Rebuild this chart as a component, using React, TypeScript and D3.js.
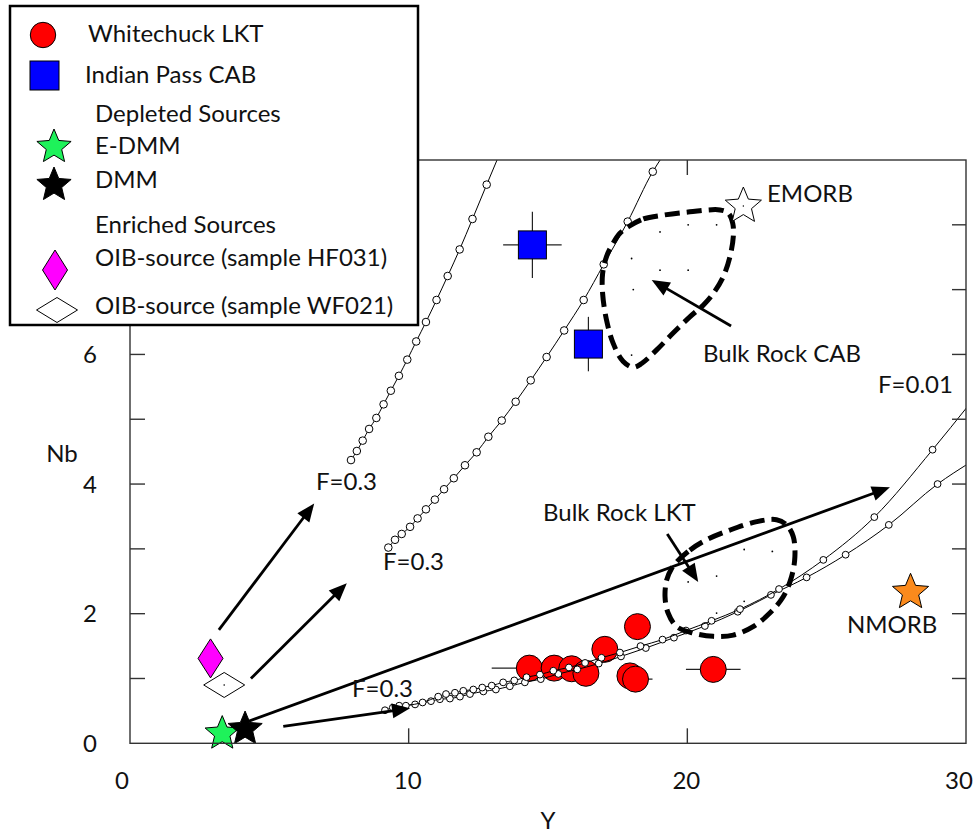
import React from "react";
import * as d3 from "d3";

const WIDTH = 976;
const HEIGHT = 836;
const FONT = "Lato, 'Open Sans', sans-serif";
const FS = 24;

// Whitechuck LKT: Y (ppm), Nb (ppm), ±Y
const lktY = [14.33, 15.22, 15.85, 16.36, 17.04, 18.21, 17.94, 18.14, 20.93];
const lktNb = [1.16, 1.16, 1.15, 1.08, 1.45, 1.8, 1.04, 0.99, 1.14];
const lktYErr = [1.35, 0.4, 0.4, 0.4, 0.4, 0.4, 0.4, 0.61, 0.98];

// Indian Pass CAB: Y, Nb, ±Y, ±Nb
const cabY = [14.44, 16.45];
const cabNb = [7.69, 6.16];
const cabYErr = [1.05, 0.4];
const cabNbErr = [0.51, 0.42];

// Mantle sources and reference basalts: [Y, Nb]
const eDMM: [number, number] = [3.31, 0.15];
const DMM: [number, number] = [4.13, 0.22];
const oibHF031: [number, number] = [2.89, 1.31];
const oibWF021: [number, number] = [3.38, 0.9];
const EMORB: [number, number] = [22.01, 8.29];
const NMORB: [number, number] = [28.01, 2.33];

// Batch-melting model curves (F = 0.3 → 0.01): [Y, Nb]
const meltHF031: [number, number][] = [
  [7.93, 4.37], [8.14, 4.51], [8.35, 4.67], [8.58, 4.85], [8.84, 5.02], [9.1, 5.23],
  [9.36, 5.44], [9.65, 5.67], [9.95, 5.92], [10.27, 6.2], [10.62, 6.5], [11.0, 6.84],
  [11.4, 7.21], [11.83, 7.62], [12.29, 8.09], [12.8, 8.62], [13.22, 9.05],
];
const meltWF021: [number, number][] = [
  [9.27, 3.02], [9.51, 3.14], [9.75, 3.23], [10.05, 3.34], [10.32, 3.47], [10.62, 3.61],
  [10.94, 3.76], [11.27, 3.92], [11.62, 4.09], [12.02, 4.29], [12.44, 4.49], [12.86, 4.73],
  [13.34, 4.98], [13.84, 5.27], [14.38, 5.6], [14.95, 5.96], [15.58, 6.37], [16.28, 6.84],
  [17.0, 7.39], [17.86, 8.05], [18.76, 8.82], [19.1, 9.05],
];
const meltEDMM: [number, number][] = [
  [9.43, 0.55], [9.9, 0.58], [10.5, 0.63], [11.06, 0.72], [11.34, 0.76], [11.66, 0.78],
  [11.96, 0.81], [12.32, 0.83], [12.64, 0.86], [12.98, 0.89], [13.39, 0.94], [13.79, 0.97],
  [14.23, 1.02], [14.71, 1.06], [15.19, 1.12], [15.75, 1.17], [16.33, 1.24], [16.92, 1.32],
  [17.58, 1.4], [18.32, 1.5], [19.11, 1.6], [19.95, 1.74], [20.87, 1.89], [21.89, 2.07],
  [23.29, 2.38], [24.88, 2.83], [26.71, 3.49], [28.8, 4.53], [30.1, 5.22],
];
const meltDMM: [number, number][] = [
  [9.15, 0.51], [9.66, 0.58], [10.23, 0.6], [10.8, 0.65], [11.12, 0.68], [11.48, 0.69],
  [11.84, 0.72], [12.2, 0.76], [12.68, 0.8], [13.13, 0.83], [13.63, 0.88], [14.17, 0.94],
  [14.74, 0.99], [15.37, 1.07], [16.05, 1.14], [16.82, 1.23], [17.62, 1.34], [18.51, 1.47],
  [19.52, 1.63], [20.63, 1.81], [21.81, 2.03], [23.0, 2.29], [24.28, 2.56], [25.68, 2.91],
  [27.23, 3.37], [28.98, 4.0], [30.1, 4.32],
];

// Bulk-rock fields
const fieldCAB: [number, number][] = [
  [17.88, 7.97], [18.42, 8.09], [19.14, 8.15], [20.09, 8.2], [21.17, 8.23], [21.47, 8.18],
  [21.63, 8.02], [21.65, 7.82], [21.53, 7.51], [21.29, 7.2], [20.93, 6.94], [20.57, 6.76],
  [20.09, 6.58], [19.49, 6.33], [18.9, 6.07], [18.36, 5.86], [18.06, 5.8], [17.7, 5.89],
  [17.34, 6.17], [17.1, 6.53], [16.96, 6.94], [16.96, 7.25], [17.1, 7.51], [17.34, 7.72],
  [17.58, 7.87],
];
const fieldLKT: [number, number][] = [
  [19.62, 2.8], [20.09, 2.98], [20.69, 3.14], [21.53, 3.29], [22.49, 3.42], [23.2, 3.45],
  [23.56, 3.37], [23.8, 3.19], [23.86, 2.88], [23.74, 2.57], [23.44, 2.26], [22.96, 2.01],
  [22.36, 1.8], [21.65, 1.67], [20.93, 1.65], [20.21, 1.7], [19.62, 1.8], [19.31, 2.01],
  [19.2, 2.26], [19.26, 2.52], [19.44, 2.7],
];
const bulkCAB: [number, number][] = [
  [19.02, 7.89], [20.03, 8.0], [21.05, 8.0], [18.0, 7.48], [19.02, 7.3], [20.03, 7.3],
  [18.06, 7.0], [18.0, 5.99],
];
const bulkLKT: [number, number][] = [
  [22.04, 2.99], [23.05, 2.96], [21.05, 2.58], [20.03, 2.49], [22.04, 2.19], [21.05, 2.01],
];

// Melting-direction arrows: start and tip
const arrowFrom: [number, number][] = [
  [3.19, 1.75], [4.34, 1.0], [4.13, 0.32], [5.5, 0.26], [19.28, 3.23], [21.57, 6.44],
];
const arrowTo: [number, number][] = [
  [6.61, 3.7], [7.78, 2.47], [27.27, 3.95], [10.05, 0.54], [20.39, 2.49], [18.72, 7.15],
];

const xTicks = [0, 10, 20, 30];
const yTickLabels = [0, 2, 4, 6];
const yMinorTicks = [1, 2, 3, 4, 5, 6, 7, 8];

const X0 = 130, X1 = 966, Y0 = 743.3, Y1 = 160;
const x = d3.scaleLinear().domain([0, 30]).range([X0, X1]);
const y = d3.scaleLinear().domain([0, 9]).range([Y0, Y1]);

function starPath(cx: number, cy: number, R: number, ratio = 0.45) {
  const pts: string[] = [];
  for (let i = 0; i < 10; i++) {
    const a = -Math.PI / 2 + (i * Math.PI) / 5;
    const r = i % 2 === 0 ? R : R * ratio;
    pts.push(`${cx + r * Math.cos(a)},${cy + r * Math.sin(a)}`);
  }
  return "M" + pts.join("L") + "Z";
}

function diamondPath(cx: number, cy: number, w: number, h: number) {
  return `M${cx},${cy - h / 2}L${cx + w / 2},${cy}L${cx},${cy + h / 2}L${cx - w / 2},${cy}Z`;
}

function Arrow({ from, to }: { from: [number, number]; to: [number, number] }) {
  const x1 = x(from[0]), y1 = y(from[1]);
  const x2 = x(to[0]), y2 = y(to[1]);
  const dx = x2 - x1, dy = y2 - y1;
  const len = Math.hypot(dx, dy);
  const ux = dx / len, uy = dy / len;
  const L = 18, hw = 7.5;
  const bx = x2 - ux * L, by = y2 - uy * L;
  const head = `M${x2},${y2}L${bx - uy * hw},${by + ux * hw}L${bx + uy * hw},${by - ux * hw}Z`;
  return (
    <g>
      <line x1={x1} y1={y1} x2={x2 - ux * L * 0.8} y2={y2 - uy * L * 0.8} stroke="#000" strokeWidth={2.8} />
      <path d={head} fill="#000" />
    </g>
  );
}

const curveLine = d3
  .line<[number, number]>()
  .x((d) => x(d[0]))
  .y((d) => y(d[1]))
  .curve(d3.curveMonotoneX);

const fieldLine = d3
  .line<[number, number]>()
  .x((d) => x(d[0]))
  .y((d) => y(d[1]))
  .curve(d3.curveCatmullRomClosed.alpha(0.5));

function MeltCurve({ pts, r }: { pts: [number, number][]; r: number }) {
  return (
    <g>
      <path d={curveLine(pts) || ""} fill="none" stroke="#000" strokeWidth={1} />
      {pts.slice(0, -1).map((p, i) => (
        <circle key={i} cx={x(p[0])} cy={y(p[1])} r={r} fill="#fff" stroke="#000" strokeWidth={1} />
      ))}
    </g>
  );
}

const textStyle = { fontFamily: FONT, fontSize: FS, fill: "#111" } as const;

export default function App() {
  return (
    <svg
      width={WIDTH}
      height={HEIGHT}
      style={{ position: "absolute", left: 0, top: 0, background: "#fff" }}
    >
      <defs>
        <clipPath id="plot-clip">
          <rect x={X0} y={Y1} width={X1 - X0} height={Y0 - Y1} />
        </clipPath>
      </defs>
      <rect x={0} y={0} width={WIDTH} height={HEIGHT} fill="#fff" />

      {/* Whitechuck LKT with Y error bars */}
      {lktY.map((v, i) => (
        <line
          key={"e" + i}
          x1={x(v - lktYErr[i])}
          x2={x(v + lktYErr[i])}
          y1={y(lktNb[i])}
          y2={y(lktNb[i])}
          stroke="#222"
          strokeWidth={1.2}
        />
      ))}
      {lktY.map((v, i) => (
        <circle key={"c" + i} cx={x(v)} cy={y(lktNb[i])} r={13} fill="#ff0000" stroke="#000" strokeWidth={1} />
      ))}

      {/* Indian Pass CAB */}
      {cabY.map((v, i) => (
        <g key={"cab" + i}>
          <line x1={x(v - cabYErr[i])} x2={x(v + cabYErr[i])} y1={y(cabNb[i])} y2={y(cabNb[i])} stroke="#222" strokeWidth={1.2} />
          <line x1={x(v)} x2={x(v)} y1={y(cabNb[i] - cabNbErr[i])} y2={y(cabNb[i] + cabNbErr[i])} stroke="#222" strokeWidth={1.2} />
          <rect x={x(v) - 14} y={y(cabNb[i]) - 14} width={28} height={28} fill="#0000ff" stroke="#000" strokeWidth={1} />
        </g>
      ))}

      {/* Melting curves */}
      <g clipPath="url(#plot-clip)">
        <MeltCurve pts={meltHF031} r={3.8} />
        <MeltCurve pts={meltWF021} r={3.8} />
        <MeltCurve pts={meltDMM} r={3.4} />
        <MeltCurve pts={meltEDMM} r={3.4} />
      </g>

      {/* Bulk-rock fields */}
      {bulkCAB.concat(bulkLKT).map((p, i) => (
        <circle key={"b" + i} cx={x(p[0])} cy={y(p[1])} r={0.9} fill="#000" />
      ))}
      <path d={fieldLine(fieldCAB) || ""} fill="none" stroke="#000" strokeWidth={5} strokeDasharray="15 7" />
      <path d={fieldLine(fieldLKT) || ""} fill="none" stroke="#000" strokeWidth={5} strokeDasharray="15 7" />

      {/* Arrows */}
      {arrowFrom.map((f, i) => (
        <Arrow key={"a" + i} from={f} to={arrowTo[i]} />
      ))}

      {/* Sources */}
      <path d={diamondPath(x(oibHF031[0]), y(oibHF031[1]), 25, 39)} fill="#ff00ff" stroke="#000" strokeWidth={1} />
      <path d={diamondPath(x(oibWF021[0]), y(oibWF021[1]), 41, 25)} fill="#fff" stroke="#000" strokeWidth={1} />
      <circle cx={x(oibWF021[0])} cy={y(oibWF021[1])} r={0.8} fill="#000" />
      <path d={starPath(x(eDMM[0]), y(eDMM[1]), 18)} fill="#1ef25a" stroke="#000" strokeWidth={1} />
      <path d={starPath(x(DMM[0]), y(DMM[1]), 18)} fill="#000" stroke="#000" strokeWidth={1} />
      <path d={starPath(x(EMORB[0]), y(EMORB[1]), 19)} fill="#fff" stroke="#000" strokeWidth={1} />
      <circle cx={x(EMORB[0])} cy={y(EMORB[1])} r={0.7} fill="#000" />
      <path d={starPath(x(NMORB[0]), y(NMORB[1]), 19)} fill="#fb8a1c" stroke="#000" strokeWidth={1} />

      {/* Annotations */}
      <text x={316} y={490} style={textStyle}>F=0.3</text>
      <text x={383} y={570} style={textStyle}>F=0.3</text>
      <text x={352} y={697} style={textStyle}>F=0.3</text>
      <text x={878} y={393} style={textStyle}>F=0.01</text>
      <text x={767} y={202} style={textStyle}>EMORB</text>
      <text x={703} y={362} style={textStyle}>Bulk Rock CAB</text>
      <text x={543} y={521} style={textStyle}>Bulk Rock LKT</text>
      <text x={847} y={633} style={textStyle}>NMORB</text>

      {/* Axes frame */}
      <rect x={X0} y={Y1} width={X1 - X0} height={Y0 - Y1} fill="none" stroke="#333" strokeWidth={1.4} />
      {xTicks.slice(1, -1).map((t) => (
        <g key={"xt" + t}>
          <line x1={x(t)} x2={x(t)} y1={Y0} y2={Y0 - 15} stroke="#333" strokeWidth={1.4} />
          <line x1={x(t)} x2={x(t)} y1={Y1} y2={Y1 + 15} stroke="#333" strokeWidth={1.4} />
        </g>
      ))}
      {yMinorTicks.map((t) => (
        <g key={"yt" + t}>
          <line x1={X0} x2={X0 + 15} y1={y(t)} y2={y(t)} stroke="#333" strokeWidth={1.4} />
          <line x1={X1} x2={X1 - 14} y1={y(t)} y2={y(t)} stroke="#333" strokeWidth={1.4} />
        </g>
      ))}
      {xTicks.map((t, i) => (
        <text
          key={"xl" + t}
          x={x(t) + (i === 0 ? -8 : i === xTicks.length - 1 ? -7 : -1)}
          y={789}
          textAnchor="middle"
          style={textStyle}
        >
          {t}
        </text>
      ))}
      {yTickLabels.map((t) => (
        <text key={"yl" + t} x={97} y={y(t) + 8.5} textAnchor="end" style={textStyle}>
          {t}
        </text>
      ))}
      <text x={62} y={462} textAnchor="middle" style={textStyle}>Nb</text>
      <text x={548} y={829} textAnchor="middle" style={textStyle}>Y</text>

      {/* Legend */}
      <g>
        <rect x={10} y={6} width={408} height={319} fill="#fff" stroke="#000" strokeWidth={2.5} />
        <circle cx={43} cy={35} r={12.7} fill="#ff0000" stroke="#000" strokeWidth={1} />
        <text x={88} y={42} style={textStyle}>Whitechuck LKT</text>
        <rect x={30} y={61} width={29} height={29} fill="#0000ff" stroke="#000" strokeWidth={1} />
        <text x={85} y={83} style={textStyle}>Indian Pass CAB</text>
        <text x={95} y={122} style={textStyle}>Depleted Sources</text>
        <path d={starPath(54, 147, 18)} fill="#1ef25a" stroke="#000" strokeWidth={1} />
        <text x={95} y={154} style={textStyle}>E-DMM</text>
        <path d={starPath(54, 185, 18)} fill="#000" stroke="#000" strokeWidth={1} />
        <text x={95} y={188} style={textStyle}>DMM</text>
        <text x={95} y={233} style={textStyle}>Enriched Sources</text>
        <path d={diamondPath(55, 270, 25, 40)} fill="#ff00ff" stroke="#000" strokeWidth={1} />
        <text x={95} y={266} style={textStyle}>OIB-source (sample HF031)</text>
        <path d={diamondPath(57, 310, 41, 25)} fill="#fff" stroke="#000" strokeWidth={1} />
        <text x={95} y={314} style={textStyle}>OIB-source (sample WF021)</text>
      </g>
    </svg>
  );
}
